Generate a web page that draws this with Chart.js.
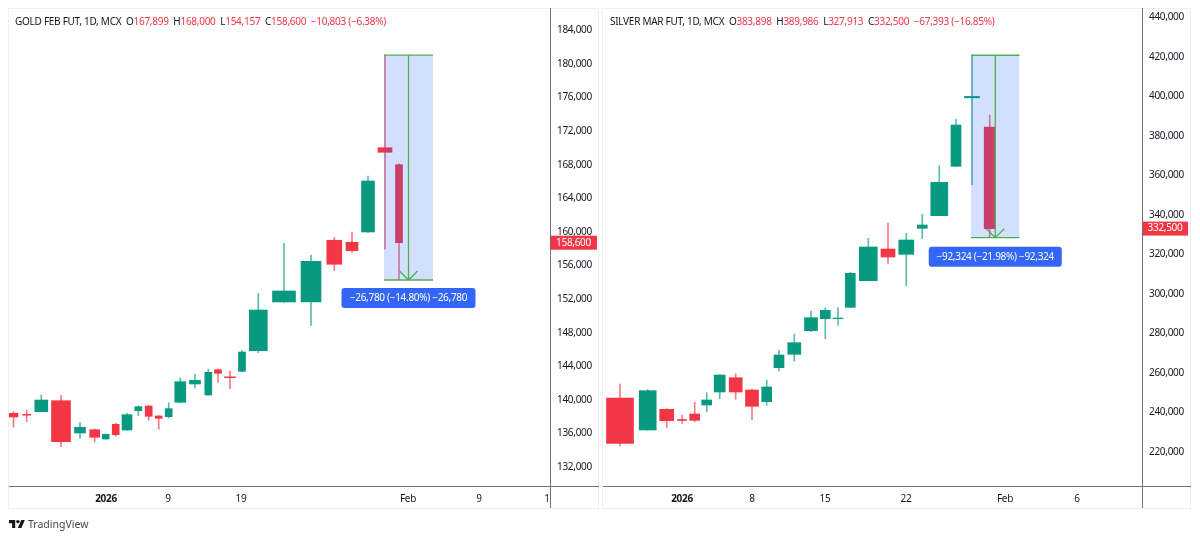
<!DOCTYPE html>
<html>
<head>
<meta charset="utf-8">
<script src="https://cdn.jsdelivr.net/npm/chart.js@4"></script>
<style>
html, body { margin: 0; background: #fff; overflow: hidden; }
canvas { position: absolute; top: 0; }
#gold { left: 0; }
#silver { left: 600px; }
.head { position: absolute; top: 14px; font: 10px "Noto Sans", sans-serif; letter-spacing: -0.27px; color: #131722; white-space: pre; }
.head b { font-weight: normal; color: #f23645; }
#brand { position: absolute; left: 9px; top: 517px; font: 10.5px "Noto Sans", sans-serif; color: #434651; }
#brand svg { position: absolute; left: 0; top: 3px; }
#brand span { position: absolute; left: 19px; top: 0; }
</style>
</head>
<body>
<canvas id="gold" width="600" height="538"></canvas>
<canvas id="silver" width="600" height="538"></canvas>
<div class="head" style="left:15px">GOLD FEB FUT, 1D, MCX  O<b>167,899</b>  H<b>168,000</b>  L<b>154,157</b>  C<b>158,600</b>  <b>−10,803 (−6.38%)</b></div>
<div class="head" style="left:610px">SILVER MAR FUT, 1D, MCX  O<b>383,898</b>  H<b>389,986</b>  L<b>327,913</b>  C<b>332,500</b>  <b>−67,393 (−16.85%)</b></div>
<div id="brand"><svg width="16" height="8" viewBox="0 4 36 20" preserveAspectRatio="none"><path fill="#131722" d="M14 24H7V12H0V4h14zM28 24h-8l7.5-20h8z"/><circle fill="#131722" cx="20" cy="8" r="4"/></svg><span>TradingView</span></div>
<script>
// gold, x in sessions from the left edge of the panel
var goldX = [0.45, 1.77, 3.23, 5.2, 7.1, 8.57, 9.67, 10.67, 11.8, 12.93, 13.97, 14.97, 15.97, 17.13, 18.6, 19.93, 20.9, 22.1, 23.3, 24.93, 27.5, 30.2, 32.53, 34.3, 35.9, 37.6, 39];
var goldOpen = [138280, 138150, 138470, 139780, 135930, 136320, 135220, 136970, 136290, 138590, 139150, 137960, 137870, 139590, 141770, 140460, 143470, 142620, 143280, 145740, 151540, 151540, 158890, 158650, 159880, 169920, 167899];
var goldHigh = [138470, 138670, 140460, 140420, 137200, 136400, 135800, 137090, 138270, 139180, 139200, 138000, 139540, 142480, 142960, 143550, 143550, 143320, 145740, 152570, 158530, 157140, 159240, 159880, 166550, 180940, 168000];
var goldLow = [136610, 137280, 138460, 134300, 135300, 134860, 135180, 135540, 136250, 137990, 137440, 136370, 137750, 139540, 141290, 140420, 141970, 141210, 143240, 145500, 151500, 148760, 155270, 157410, 159840, 157820, 154157];
var goldClose = [137840, 138050, 139860, 134890, 136610, 135420, 135780, 135730, 138110, 139060, 137920, 137680, 138830, 142040, 142210, 143160, 143040, 142520, 145580, 150580, 152850, 156390, 156030, 157650, 165950, 169370, 158600];
var goldTicks = [132000, 136000, 140000, 144000, 148000, 152000, 156000, 160000, 164000, 168000, 172000, 176000, 180000, 184000];
var goldDates = ['2026', '9', '19', 'Feb', '9', '1'];
var goldDateX = [9.7, 15.9, 23.2, 39.9, 47, 53.8];

// silver
var silverX = [1.7, 4.47, 6.37, 7.9, 9.17, 10.37, 11.67, 13.27, 14.9, 16.37, 17.6, 19.13, 20.8, 22.23, 23.5, 24.73, 26.53, 28.5, 30.33, 31.93, 33.63, 35.3, 36.9, 38.67];
var silverOpen = [246770, 230580, 241050, 235900, 238670, 243230, 249810, 257050, 250820, 244900, 262110, 268890, 280830, 286900, 286950, 292670, 306130, 322180, 319490, 332650, 339030, 364030, 398700, 383898];
var silverHigh = [253860, 251120, 241350, 238160, 244590, 249450, 258570, 259070, 251330, 255880, 270910, 279170, 290800, 292470, 292470, 310380, 327590, 335330, 330120, 339730, 364330, 387820, 420240, 389986];
var silverLow = [222500, 230500, 231740, 233960, 234770, 239830, 246420, 246120, 235630, 243230, 260440, 265500, 280330, 276780, 283560, 292600, 306100, 314940, 303600, 327390, 339000, 364000, 354720, 327913];
var silverClose = [223840, 250470, 235280, 235400, 235480, 245760, 258410, 249810, 242570, 252340, 268530, 274760, 287410, 291150, 287250, 309880, 323180, 318130, 326730, 334320, 355930, 384930, 399400, 332500];
var silverTicks = [220000, 240000, 260000, 280000, 300000, 320000, 340000, 360000, 380000, 400000, 420000, 440000];
var silverDates = ['2026', '8', '15', '22', 'Feb', '6'];
var silverDateX = [7.9, 14.9, 22.2, 30.3, 40.2, 47.4];

// body widths in px, the panels are stretched unevenly
var goldBodyPx = [9, 8, 13, 19, 11, 10, 7, 7, 10, 7, 7, 7, 7, 11, 11, 7, 7, 11, 7, 18, 23, 20, 15, 12, 13, 14, 7];
var silverBodyPx = [27, 17, 14, 9, 10, 10, 11, 13, 13, 10, 10, 13, 13, 10, 10, 10, 18, 14, 15, 10, 17, 10, 15, 11];

var UP = '#089981';
var DOWN = '#f23645';
var WICK_ALPHA = 'a8';
var FONT = '"Noto Sans", sans-serif';
var TEXT_SPACING = '-0.3px';

function candles(xs, o, h, l, c, widths) {
	var sets = [];
	for (var i = 0; i < xs.length; i++) {
		var col = c[i] >= o[i] ? UP : DOWN;
		sets.push({ data: [{ x: xs[i], y: [o[i], c[i]] }], backgroundColor: col, barThickness: widths[i] });
		sets.push({ data: [{ x: xs[i], y: [l[i], h[i]] }], backgroundColor: col + WICK_ALPHA, barThickness: 1 });
	}
	return sets;
}

// frame, measure box and last price tag
function overlay(m) {
	return {
		id: 'overlay',
		beforeDraw: function (chart) {
			chart.ctx.letterSpacing = TEXT_SPACING;
		},
		afterDatasetsDraw: function (chart) {
			var g = chart.ctx, sx = chart.scales.x, sy = chart.scales.y, a = chart.chartArea;
			var L = sx.getPixelForValue(m.x0), R = sx.getPixelForValue(m.x1);
			var T = sy.getPixelForValue(m.top), B = sy.getPixelForValue(m.bottom);
			var C = (L + R) / 2;
			g.save();
			g.fillStyle = 'rgba(41,98,255,0.2)';
			g.fillRect(L, T, R - L, B - T);
			g.strokeStyle = '#4caf50';
			g.lineWidth = 1.3;
			g.beginPath();
			g.moveTo(L, T); g.lineTo(R, T);
			g.moveTo(L, B); g.lineTo(R, B);
			g.moveTo(C, T); g.lineTo(C, B);
			g.moveTo(C - 9, B - 9); g.lineTo(C, B); g.lineTo(C + 9, B - 9);
			g.stroke();

			// blue label under the box
			var lw = m.labelW, ly = B + m.labelGap;
			g.fillStyle = '#3366f6';
			g.beginPath();
			g.roundRect(C - lw / 2, ly, lw, 20, 3);
			g.fill();
			g.fillStyle = '#fff';
			g.font = '10px ' + FONT;
			g.textAlign = 'center';
			g.textBaseline = 'middle';
			g.fillText(m.label, C, ly + 10);

			// last price
			var py = sy.getPixelForValue(m.last);
			g.fillStyle = DOWN;
			g.fillRect(a.right, py - 7, m.tagW, 14);
			g.fillStyle = '#fff';
			g.fillText(m.lastText, a.right + m.tagW / 2, py);

			// panel frame and axis lines
			g.strokeStyle = '#eef0f5';
			g.lineWidth = 1;
			g.strokeRect(a.left - 0.5, 8.5, m.frameW, 500);
			g.strokeStyle = '#6f727c';
			g.beginPath();
			g.moveTo(a.right + 0.5, 8); g.lineTo(a.right + 0.5, 508);
			g.moveTo(a.left, a.bottom + 0.5); g.lineTo(a.left + m.frameW, a.bottom + 0.5);
			g.stroke();
			g.restore();
		}
	};
}

function build(id, sets, xMax, yMin, yMax, ticks, dates, dateX, m, padL, axisW) {
	new Chart(document.getElementById(id), {
		type: 'bar',
		data: { datasets: sets },
		plugins: [overlay(m)],
		options: {
			responsive: false,
			animation: false,
			devicePixelRatio: 1,
			layout: { padding: { left: padL, top: 9, right: 600 - padL - xMax * 10 - axisW, bottom: 29 } },
			plugins: { legend: { display: false }, tooltip: { enabled: false } },
			datasets: { bar: { grouped: false } },
			scales: {
				x: {
					type: 'linear', offset: false, min: 0, max: xMax,
					grid: { display: false, drawTicks: false },
					border: { display: false },
					afterFit: function (s) { s.height = 23; s.paddingLeft = 0; s.paddingRight = 0; },
					afterBuildTicks: function (s) { s.ticks = dateX.map(function (v) { return { value: v }; }); },
					ticks: {
						autoSkip: false, maxRotation: 0, color: '#131722', padding: 7,
						font: function (c) { return { family: FONT, size: 10, weight: c.index === 0 ? 'bold' : 'normal' }; },
						callback: function (v, i) { return dates[i]; }
					}
				},
				y: {
					position: 'right', min: yMin, max: yMax,
					grid: { display: false, drawTicks: false },
					border: { display: false },
					afterFit: function (s) { s.width = axisW; s.paddingTop = 0; s.paddingBottom = 0; },
					afterBuildTicks: function (s) { s.ticks = ticks.map(function (v) { return { value: v }; }); },
					ticks: {
						color: '#131722', padding: 7, labelOffset: 1, font: { family: FONT, size: 10 },
						callback: function (v) { return v.toLocaleString('en-US'); }
					}
				}
			}
		}
	});
}

build('gold', candles(goldX, goldOpen, goldHigh, goldLow, goldClose, goldBodyPx), 54.1, 129617, 186442, goldTicks, goldDates, goldDateX,
	{ x0: 37.5, x1: 42.4, top: 180937, bottom: 154157, last: 158600, lastText: '158,600', label: '−26,780 (−14.80%) −26,780', labelW: 134, labelGap: 8, tagW: 47, frameW: 590 }, 9, 47);
build('silver', candles(silverX, silverOpen, silverHigh, silverLow, silverClose, silverBodyPx), 53.9, 202239, 443634, silverTicks, silverDates, silverDateX,
	{ x0: 36.8, x1: 41.65, top: 420237, bottom: 327913, last: 332500, lastText: '332,500', label: '−92,324 (−21.98%) −92,324', labelW: 133, labelGap: 9, tagW: 46, frameW: 588 }, 3, 46);
</script>
</body>
</html>
